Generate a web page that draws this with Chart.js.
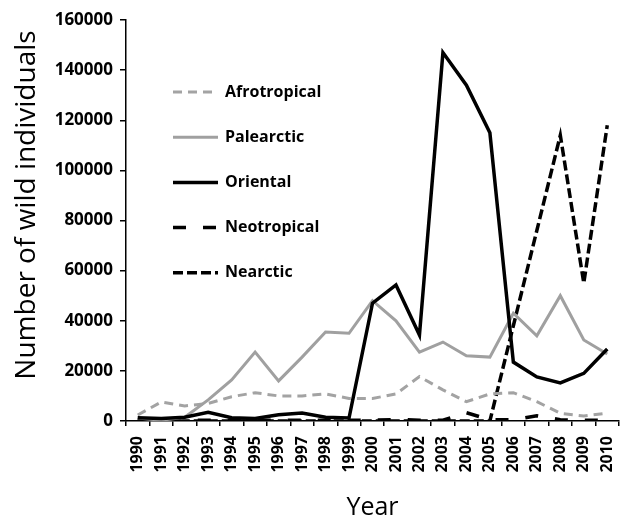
<!DOCTYPE html>
<html>
<head>
<meta charset="utf-8">
<script src="https://cdn.jsdelivr.net/npm/chart.js@4/dist/chart.umd.min.js"></script>
<style>
  html, body { margin: 0; padding: 0; background: #fff; }
  #wrap { width: 639px; height: 519px; }
</style>
</head>
<body>
<div id="wrap"><canvas id="c" width="639" height="519"></canvas></div>
<script>
const years = ['1990','1991','1992','1993','1994','1995','1996','1997','1998','1999','2000','2001','2002','2003','2004','2005','2006','2007','2008','2009','2010'];
const yTicks = [0, 20000, 40000, 60000, 80000, 100000, 120000, 140000, 160000];

const afrotropical = [2400, 7600, 6000, 7000, 9700, 11300, 10000, 10000, 10800, 9000, 9000, 10800, 17700, 12400, 7700, 10800, 11300, 7700, 3100, 2000, 3100];
const palearctic   = [1200, 300, 1500, 8400, 16400, 27500, 16000, 25500, 35500, 35000, 48000, 40000, 27500, 31500, 26000, 25500, 43000, 34000, 50000, 32300, 26700];
const oriental     = [1300, 1000, 1500, 3500, 1300, 1000, 2500, 3200, 1500, 1200, 47000, 54300, 34300, 147000, 134000, 115000, 23500, 17600, 15200, 19000, 28700];
const neotropical  = [500, 300, 300, 300, 300, 300, 300, 300, 300, 300, 300, 600, 300, 300, 3300, 500, 500, 2100, 500, 300, 300];
const nearctic     = [0, 0, 0, 0, 0, 0, 0, 0, 0, 0, 0, 0, 0, 0, 0, 0, 38000, 76000, 114000, 55000, 118000];

const seriesNames = ['Afrotropical', 'Palearctic', 'Oriental', 'Neotropical', 'Nearctic'];
const xTitle = 'Year';
const yTitle = 'Number of wild individuals';

const datasets = [
  { label: seriesNames[0], data: afrotropical, borderColor: '#a3a3a3', borderWidth: 3, borderDash: [9, 6], order: 3 },
  { label: seriesNames[1], data: palearctic,   borderColor: '#a0a0a0', borderWidth: 3, order: 2 },
  { label: seriesNames[2], data: oriental,     borderColor: '#000000', borderWidth: 3.5, order: 1 },
  { label: seriesNames[3], data: neotropical,  borderColor: '#000000', borderWidth: 3.5, borderDash: [13, 17], order: 4 },
  { label: seriesNames[4], data: nearctic,     borderColor: '#000000', borderWidth: 3.5, borderDash: [10, 4], order: 5 }
].map(d => Object.assign({ pointRadius: 0, pointHoverRadius: 0, tension: 0, fill: false, borderCapStyle: 'butt', borderJoinStyle: 'miter' }, d));

const legendPlugin = {
  id: 'insideLegend',
  afterDraw(chart) {
    const ctx = chart.ctx;
    const x0 = 173, x1 = 218, tx = 225, y0 = 92, dy = 45.2;
    ctx.save();
    chart.data.datasets.forEach((ds, i) => {
      const y = y0 + i * dy;
      ctx.beginPath();
      ctx.strokeStyle = ds.borderColor;
      ctx.lineWidth = ds.borderWidth;
      ctx.setLineDash(ds.borderDash || []);
      ctx.moveTo(x0, y);
      ctx.lineTo(x1, y);
      ctx.stroke();
      ctx.setLineDash([]);
      ctx.fillStyle = '#000';
      ctx.font = 'bold 16px "Open Sans", sans-serif';
      ctx.textBaseline = 'middle';
      ctx.textAlign = 'left';
      ctx.fillText(ds.label, tx, y);
    });
    // y axis title
    ctx.save();
    ctx.translate(27, 205);
    ctx.rotate(-Math.PI / 2);
    ctx.font = '28px "Open Sans", sans-serif';
    ctx.textAlign = 'center';
    ctx.textBaseline = 'middle';
    ctx.fillText(yTitle, 0, 0);
    ctx.restore();
    ctx.restore();
  }
};

new Chart(document.getElementById('c'), {
  type: 'line',
  data: { labels: years, datasets },
  plugins: [legendPlugin],
  options: {
    responsive: false,
    animation: false,
    layout: { padding: { left: 0, right: 20, top: 20, bottom: 0 } },
    plugins: { legend: { display: false }, tooltip: { enabled: false } },
    scales: {
      x: {
        type: 'category',
        offset: true,
        afterFit: s => { s.height = 98; },
        grid: { display: true, offset: true, drawOnChartArea: false, drawTicks: true, tickLength: 5, color: '#000', lineWidth: 1.5 },
        border: { display: true, color: '#000', width: 1.5 },
        ticks: { color: '#000', minRotation: 90, maxRotation: 90, autoSkip: false, padding: 10,
          font: { family: '"Open Sans", sans-serif', weight: 'bold', size: 16 } },
        title: { display: true, text: xTitle, color: '#000', padding: { top: 0, bottom: -4 },
          font: { family: '"Open Sans", sans-serif', size: 25 } }
      },
      y: {
        min: 0, max: 160000,
        afterFit: s => { s.width = 126; },
        afterBuildTicks: s => { s.ticks = yTicks.map(v => ({ value: v })); },
        grid: { display: true, drawOnChartArea: false, drawTicks: true, tickLength: 6, color: '#000', lineWidth: 1.5 },
        border: { display: true, color: '#000', width: 1.5 },
        ticks: { color: '#000', padding: 7, callback: v => String(v),
          font: { family: '"Open Sans", sans-serif', weight: 'bold', size: 17 } },
        title: { display: false }
      }
    }
  }
});
</script>
</body>
</html>
